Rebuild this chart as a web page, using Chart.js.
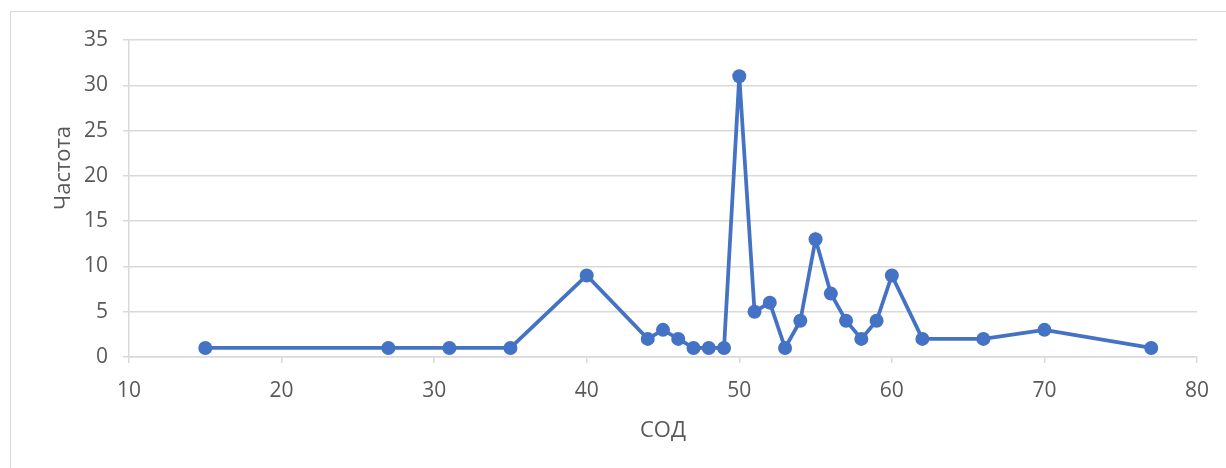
<!DOCTYPE html>
<html>
<head>
<meta charset="utf-8">
<script src="https://cdn.jsdelivr.net/npm/chart.js@4/dist/chart.umd.min.js"></script>
<style>
  html, body { margin: 0; padding: 0; background: #fff; }
  #wrap { position: relative; width: 1226px; height: 468px; overflow: hidden; }
  #frame { position: absolute; left: 10px; top: 11px; width: 1240px; height: 480px; border: 1px solid #d9d9d9; box-sizing: border-box; }
  #c { position: absolute; left: 0; top: 0; }
</style>
</head>
<body>
<div id="wrap">
  <div id="frame"></div>
  <canvas id="c" width="1226" height="468"></canvas>
</div>
<script>
// СОД values and how often each occurs
const sod = [15, 27, 31, 35, 40, 44, 45, 46, 47, 48, 49, 50, 51, 52, 53, 54, 55, 56, 57, 58, 59, 60, 62, 66, 70, 77];
const freq = [1, 1, 1, 1, 9, 2, 3, 2, 1, 1, 1, 31, 5, 6, 1, 4, 13, 7, 4, 2, 4, 9, 2, 2, 3, 1];
const xTicks = [10, 20, 30, 40, 50, 60, 70, 80];
const yTicks = [0, 5, 10, 15, 20, 25, 30, 35];
const xTitle = 'СОД';
const yTitle = 'Частота';

const FONT = "'Open Sans', 'Noto Sans', sans-serif";
const TEXT = '#595959';
const GRID = '#d9d9d9';
const BLUE = '#4472c4';

const points = sod.map((x, i) => ({ x: x, y: freq[i] }));

// rotated title for the value axis, drawn beside the tick labels
const yTitlePlugin = {
  id: 'yTitle',
  afterDraw(chart) {
    const ctx = chart.ctx;
    ctx.save();
    ctx.translate(64, 168);
    ctx.rotate(-Math.PI / 2);
    ctx.font = '22px ' + FONT;
    ctx.fillStyle = TEXT;
    ctx.textAlign = 'center';
    ctx.textBaseline = 'middle';
    ctx.fillText(yTitle, 0, 0);
    ctx.restore();
  }
};

new Chart(document.getElementById('c'), {
  type: 'scatter',
  data: {
    datasets: [{
      data: points,
      showLine: true,
      borderColor: BLUE,
      backgroundColor: BLUE,
      borderWidth: 3.75,
      pointRadius: 7,
      pointHoverRadius: 7,
      pointBorderWidth: 0,
      tension: 0
    }]
  },
  options: {
    responsive: false,
    animation: false,
    events: [],
    layout: { padding: { left: 0, top: 40, right: 29, bottom: 0 } },
    plugins: { legend: { display: false }, tooltip: { enabled: false } },
    scales: {
      x: {
        type: 'linear',
        min: xTicks[0],
        max: xTicks[xTicks.length - 1],
        afterBuildTicks(scale) { scale.ticks = xTicks.map(v => ({ value: v })); },
        afterFit(scale) { scale.height = 468 - 357; },
        grid: { drawOnChartArea: false, drawTicks: true, tickLength: 6, color: GRID, lineWidth: 1.5 },
        border: { display: true, color: GRID, width: 1.5 },
        ticks: { color: TEXT, font: { family: FONT, size: 21 }, padding: 15 },
        title: { display: true, text: xTitle, color: TEXT, font: { family: FONT, size: 22 }, padding: { top: 0, bottom: 24 } }
      },
      y: {
        type: 'linear',
        min: yTicks[0],
        max: yTicks[yTicks.length - 1],
        afterBuildTicks(scale) { scale.ticks = yTicks.map(v => ({ value: v })); },
        afterFit(scale) { scale.width = 129; },
        grid: { drawOnChartArea: true, drawTicks: true, tickLength: 6, color: GRID, lineWidth: 1.5 },
        border: { display: true, color: GRID, width: 1.5 },
        ticks: { color: TEXT, font: { family: FONT, size: 21 }, padding: 15 }
      }
    }
  },
  plugins: [yTitlePlugin]
});
</script>
</body>
</html>
